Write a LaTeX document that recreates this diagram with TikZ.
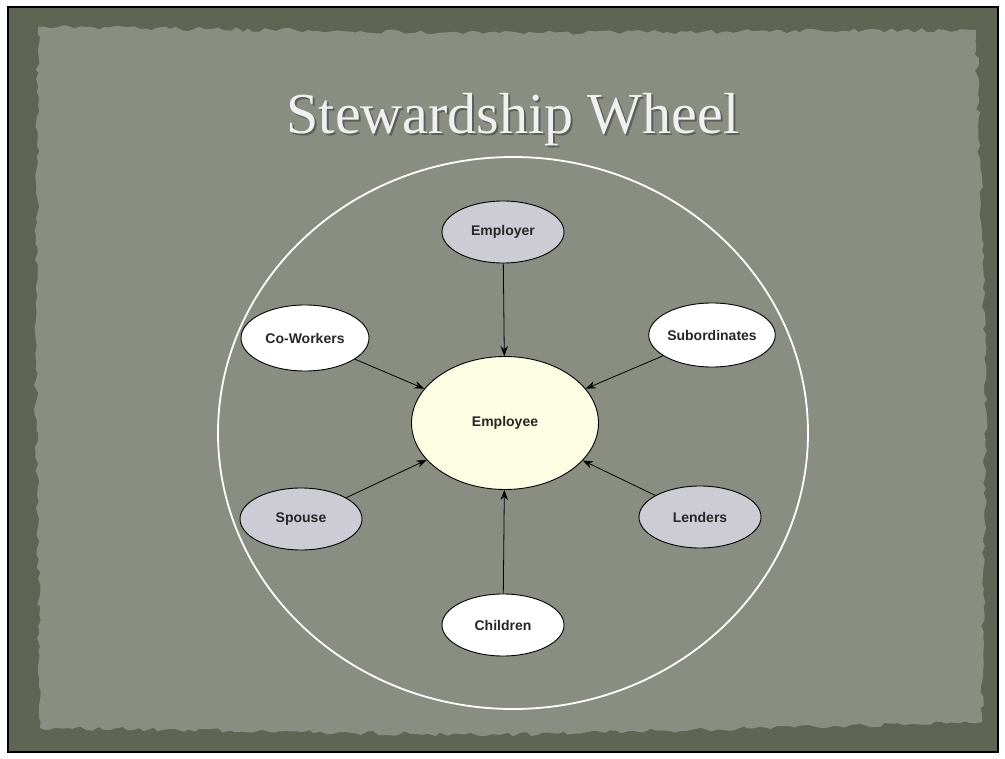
\documentclass[tikz,border=0pt]{standalone}
\usepackage{fontspec}
\setmainfont{Liberation Serif}
\newfontfamily\labfont{Liberation Sans}
\usetikzlibrary{shapes.geometric,arrows.meta,decorations.pathmorphing}
\definecolor{frameC}{HTML}{5E6553}
\definecolor{paperC}{HTML}{8A8D81}
\definecolor{empC}{HTML}{FDFDE4}
\definecolor{grayC}{HTML}{CDCBD4}
\tikzset{
  bub/.style={ellipse,draw=black,line width=0.9pt,minimum width=122pt,minimum height=62pt,inner sep=0pt,
    text=black!85,font=\labfont\bfseries\fontsize{14}{16}\selectfont},
  wbub/.style={bub,fill=white},
  gbub/.style={bub,fill=grayC},
  arr/.style={-{Stealth[length=10pt,width=7.5pt]},line width=0.8pt,black}
}
\begin{document}
\begin{tikzpicture}[x=1pt,y=-1pt]
\useasboundingbox (0,0) rectangle (1005,759);
\fill[white] (0,0) rectangle (1005,759);
\draw[fill=frameC,line width=1.2pt] (8,7) rectangle (998,752);
\pgfmathsetseed{7}
\fill[paperC,decorate,decoration={random steps,segment length=6pt,amplitude=2.2pt}]
  (38,27) -- (500,33) -- (976,30) -- (986,380) -- (982,722) -- (500,735) -- (40,728) -- (36,380) -- cycle;
% title
\node[text=black!70,opacity=0.7,font=\fontsize{58}{64}\selectfont] at (515,122) {Stewardship Wheel};
\node (title) [text=white!94!black,font=\fontsize{58}{64}\selectfont] at (513,120) {Stewardship Wheel};
% wheel
\draw[white,line width=1.8pt] (513,433) ellipse [x radius=295,y radius=276];
\node (emp) [bub,fill=empC,minimum width=187pt,minimum height=133pt] at (505,423) {Employee};
\node (employer) [gbub] at (503,232) {Employer};
\node (cow) [wbub,minimum width=128pt,minimum height=66pt] at (305,338) {Co-Workers};
\node (sub) [wbub,minimum width=124pt,minimum height=64pt] at (712,335) {Subordinates};
\node (spouse) [gbub] at (301,519) {Spouse};
\node (lend) [gbub] at (700,517) {Lenders};
\node (child) [wbub] at (503,625) {Children};
\draw[arr] (employer) -- (emp);
\draw[arr] (cow) -- (emp);
\draw[arr] (sub) -- (emp);
\draw[arr] (spouse) -- (emp);
\draw[arr] (lend) -- (emp);
\draw[arr] (child) -- (emp);
\end{tikzpicture}
\end{document}
